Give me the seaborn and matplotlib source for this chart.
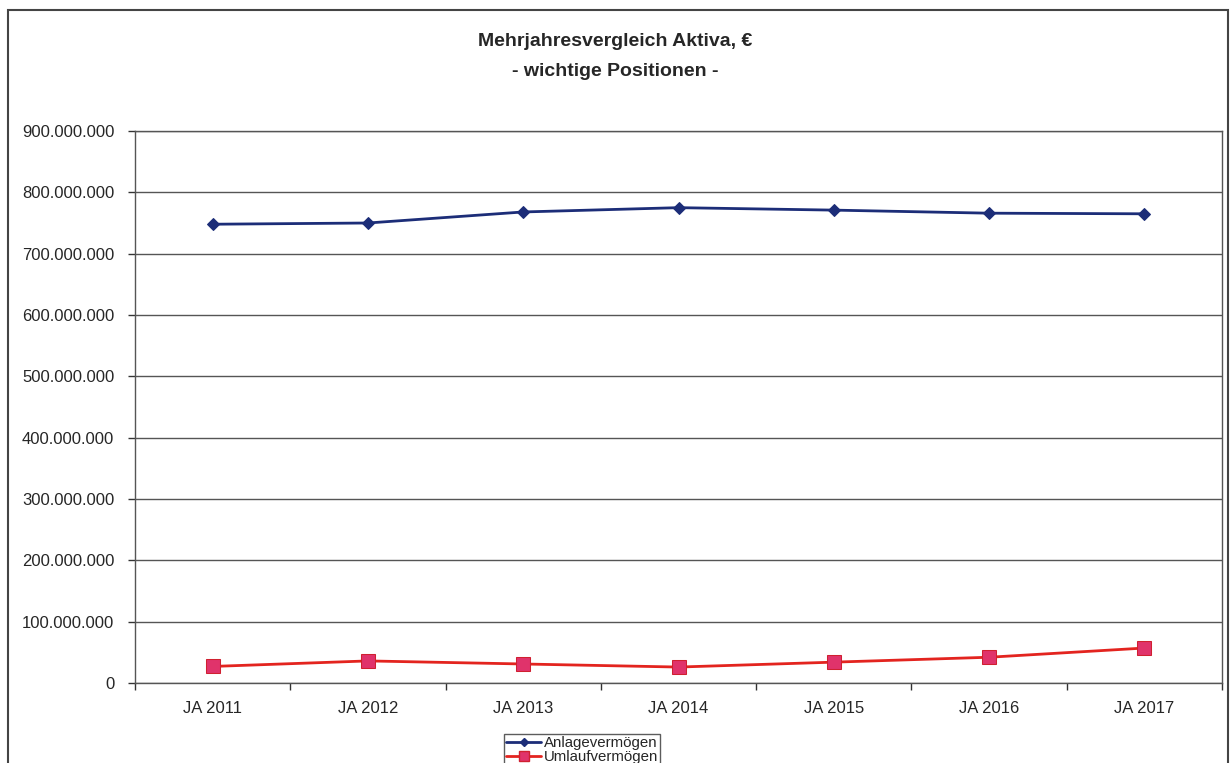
import matplotlib
matplotlib.use("Agg")
import matplotlib.pyplot as plt
import seaborn as sns
import pandas as pd
from matplotlib.ticker import FuncFormatter, FixedLocator
from matplotlib.lines import Line2D
from matplotlib.patches import Rectangle

years = ["JA 2011", "JA 2012", "JA 2013", "JA 2014", "JA 2015", "JA 2016", "JA 2017"]
anlage = [748e6, 750e6, 768e6, 775e6, 771e6, 766e6, 765e6]
umlauf = [27e6, 36e6, 31e6, 26e6, 34e6, 42e6, 57e6]
series_names = ["Anlagevermögen", "Umlaufvermögen"]
title_lines = ["Mehrjahresvergleich Aktiva, €", "- wichtige Positionen -"]

sns.set_theme(style="white")
plt.rcParams['font.family'] = ['Liberation Sans', 'DejaVu Sans']

df = pd.DataFrame({
    "Jahr": years * 2,
    "Wert": anlage + umlauf,
    "Serie": [series_names[0]] * len(years) + [series_names[1]] * len(years),
})
df["pos"] = df["Jahr"].map({y: i for i, y in enumerate(years)})

fig = plt.figure(figsize=(12.31, 7.63), dpi=100)
ax = fig.add_axes([135 / 1231, 1 - 683 / 763, (1222 - 135) / 1231, (683 - 131) / 763])

sns.lineplot(data=df, x="pos", y="Wert", hue="Serie", style="Serie",
             palette={series_names[0]: "#1c2d78", series_names[1]: "#e3241f"},
             markers={series_names[0]: "D", series_names[1]: "s"},
             dashes=False, linewidth=2, ax=ax, legend=False)

lines = ax.get_lines()
lines[0].set_markersize(6)
lines[0].set_markerfacecolor("#1c2d78")
lines[0].set_markeredgecolor("#1c2d78")
lines[1].set_markersize(10)
lines[1].set_markerfacecolor("#e0336b")
lines[1].set_markeredgecolor("#d02030")

ax.set_xlim(-0.5, len(years) - 0.5)
ax.set_ylim(0, 900e6)
ax.set_yticks([i * 100e6 for i in range(10)])
ax.yaxis.set_major_formatter(FuncFormatter(lambda v, p: f"{int(v):,}".replace(",", ".")))
ax.set_xticks(range(len(years)))
ax.set_xticklabels(years)
ax.xaxis.set_minor_locator(FixedLocator([i + 0.5 for i in range(-1, len(years))]))
ax.tick_params(axis="x", which="major", length=0, pad=13, labelsize=12)
ax.tick_params(axis="x", which="minor", length=5, width=1, color="#333333", direction="out", bottom=True)
ax.tick_params(axis="y", length=5, width=1, color="#333333", direction="out", left=True, pad=10, labelsize=12)
ax.set_xlabel("")
ax.set_ylabel("")
ax.grid(axis="y", color="#555555", linewidth=1)
ax.set_axisbelow(True)
for s in ax.spines.values():
    s.set_color("#555555")
    s.set_linewidth(1)

fig.text(0.5, 1 - 42 / 763, title_lines[0], ha="center", va="center", fontsize=14,
         fontweight="bold")
fig.text(0.5, 1 - 71 / 763, title_lines[1], ha="center", va="center", fontsize=14,
         fontweight="bold")

handles = [
    Line2D([], [], color="#1c2d78", marker="D", markersize=4, linewidth=2),
    Line2D([], [], color="#e3241f", marker="s", markersize=7,
           markerfacecolor="#e0336b", markeredgecolor="#d02030", linewidth=2),
]
leg = fig.legend(handles, series_names, loc="upper left",
                 bbox_to_anchor=(504 / 1231, 1 - 734 / 763), fontsize=10.8,
                 frameon=True, fancybox=False, edgecolor="#333333",
                 handlelength=2.3, handletextpad=0.2, borderpad=0.15,
                 labelspacing=0.0, borderaxespad=0)
leg.get_frame().set_linewidth(1)

fig.patches.append(Rectangle((8 / 1231, -0.01), (1228 - 8) / 1231, 1 - 10 / 763 + 0.01,
                             transform=fig.transFigure, fill=False,
                             edgecolor="#444444", linewidth=1.5))

fig.savefig("out.png", dpi=100)
